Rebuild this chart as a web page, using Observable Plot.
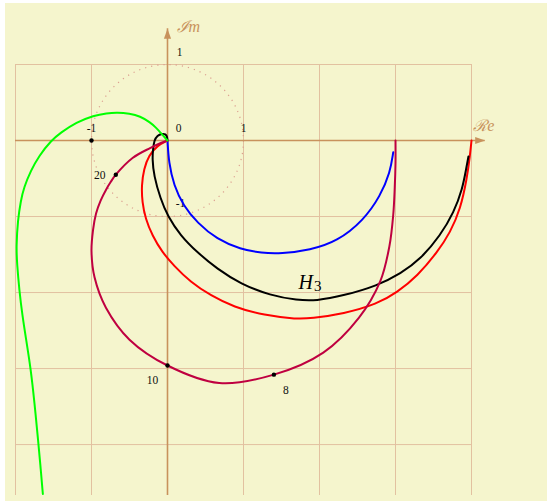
<!DOCTYPE html>
<html><head><meta charset="utf-8">
<script src="https://cdn.jsdelivr.net/npm/d3@7"></script>
<script src="https://cdn.jsdelivr.net/npm/@observablehq/plot@0.6"></script>
<style>
html,body{margin:0;padding:0;background:#ffffff;}
#chart{position:absolute;left:5px;top:3px;}
</style></head><body><div id="chart"></div>
<script>
// ---- data (Re, Im pairs) ----
// H1 (blue)
const blueRe = [0, 0.017, 0.083, 0.21, 0.39, 0.65, 0.96, 1.24, 1.49, 1.88, 2.23, 2.58, 2.80, 2.93, 2.97];
const blueIm = [0, -0.29, -0.59, -0.86, -1.08, -1.30, -1.43, -1.48, -1.49, -1.44, -1.33, -1.05, -0.73, -0.42, -0.155];
// H2 (red)
const redRe = [4.0, 3.98, 3.94, 3.855, 3.72, 3.55, 3.29, 3.02, 2.76, 2.32, 1.88, 1.71, 1.27, 0.87, 0.57, 0.30, 0.083, -0.07, -0.20, -0.29, -0.333, -0.342, -0.31, -0.246, -0.135, 0];
const redIm = [0, -0.197, -0.50, -0.90, -1.21, -1.47, -1.78, -2.0, -2.15, -2.28, -2.34, -2.35, -2.30, -2.19, -2.04, -1.86, -1.645, -1.47, -1.25, -1.03, -0.81, -0.59, -0.37, -0.197, -0.066, 0];
// H3 (black)
const blackRe = [3.96, 3.93, 3.88, 3.77, 3.59, 3.33, 3.07, 2.76, 2.32, 1.95, 1.71, 1.355, 0.96, 0.654, 0.39, 0.17, 0.0, -0.092, -0.18, -0.20, -0.19, -0.175, -0.135, -0.07, -0.025, -0.005, 0];
const blackIm = [-0.21, -0.37, -0.64, -0.94, -1.25, -1.56, -1.75, -1.91, -2.04, -2.11, -2.10, -2.04, -1.885, -1.69, -1.47, -1.25, -0.99, -0.767, -0.46, -0.24, -0.11, 0, 0.066, 0.09, 0.085, 0.05, 0];
// crimson curve, sampled by frequency
const crimsonW  = [0, 1, 2, 3, 4, 5, 6, 7, 8, 9, 10, 11, 12, 13, 14, 15, 16, 17, 18, 19, 20, 25, 35, 60, Infinity];
const crimsonRe = [3.0, 3.0, 2.99, 2.97, 2.92, 2.80, 2.52, 2.05, 1.40, 0.68, 0.0, -0.50, -0.81, -0.96, -1.0, -0.98, -0.94, -0.88, -0.81, -0.75, -0.68, -0.46, -0.23, -0.08, 0];
const crimsonIm = [0, -0.30, -0.62, -0.98, -1.39, -1.85, -2.33, -2.79, -3.08, -3.19, -2.96, -2.62, -2.20, -1.80, -1.46, -1.18, -0.96, -0.79, -0.65, -0.55, -0.45, -0.23, -0.10, -0.03, 0];
// green curve (from low frequency at the bottom to the origin)
const greenRe = [-1.64, -1.67, -1.70, -1.75, -1.80, -1.86, -1.91, -1.95, -1.98, -1.99, -1.97, -1.93, -1.89, -1.80, -1.69, -1.53, -1.41, -1.20, -0.97, -0.80, -0.66, -0.50, -0.36, -0.23, -0.15, -0.07, 0];
const greenIm = [-4.65, -4.30, -3.97, -3.45, -3.00, -2.62, -2.30, -1.97, -1.62, -1.40, -1.05, -0.79, -0.62, -0.40, -0.20, 0.0, 0.10, 0.24, 0.33, 0.36, 0.37, 0.355, 0.32, 0.24, 0.17, 0.08, 0];
// marked frequencies on the crimson curve
const markedW = [8, 10, 20];
// grid / ticks
const gridX = [-2, -1, 0, 1, 2, 3, 4];
const gridY = [1, 0, -1, -2, -3, -4];
const xTicks = [-1, 1];
const yTicks = [1, -1];
const xDomain = [-2, 4];
const yDomain = [-4.67, 1];
const reAxisEnd = 4.18;
const imAxisEnd = 1.47;
const criticalPoint = [{x: -1, y: 0}];
const h3Anchor = [{x: 1.82, y: -1.87}];

// ---- layout ----
const W = 542, H = 498;
const mL = 10, mR = 76, mT = 61, mB = 6;
const unitPx = (W - mL - mR) / (xDomain[1] - xDomain[0]);

const pts = (re, im) => re.map((x, i) => ({x, y: im[i]}));
const crimson = crimsonRe.map((x, i) => ({w: crimsonW[i], x, y: crimsonIm[i]}));
const marks = crimson.filter(d => markedW.includes(d.w));
const mk = w => marks.filter(d => d.w === w);

const gridColor = "#e2c1a0";
const axisColor = "#c8925c";
const serif = "Liberation Serif, DejaVu Serif, serif";

const arrowRight = {draw(c) { c.moveTo(0, 0); c.lineTo(-10, -3.6); c.lineTo(-10, 3.6); c.closePath(); }};
const arrowUp = {draw(c) { c.moveTo(0, 0); c.lineTo(-3.6, 10); c.lineTo(3.6, 10); c.closePath(); }};

const lineOpts = (stroke, curve) => ({x: "x", y: "y", stroke, strokeWidth: 2, curve});

const chart = Plot.plot({
  width: W, height: H,
  marginLeft: mL, marginRight: mR, marginTop: mT, marginBottom: mB,
  x: {domain: xDomain, axis: null},
  y: {domain: yDomain, axis: null},
  style: {background: "#f5f5cd", overflow: "visible"},
  marks: [
    Plot.ruleX(gridX, {y1: yDomain[0], y2: yDomain[1], stroke: gridColor, strokeWidth: 1}),
    Plot.ruleY(gridY, {x1: xDomain[0], x2: xDomain[1], stroke: gridColor, strokeWidth: 1}),
    Plot.dot([{x: 0, y: 0}], {x: "x", y: "y", r: unitPx, fill: "none", stroke: "#dca090", strokeWidth: 1.2, strokeDasharray: "1.2 5"}),
    // axes
    Plot.ruleY([0], {x1: xDomain[0], x2: reAxisEnd, stroke: axisColor, strokeWidth: 1.6}),
    Plot.ruleX([0], {y1: yDomain[0], y2: imAxisEnd, stroke: axisColor, strokeWidth: 1.6}),
    Plot.dot([{x: reAxisEnd, y: 0}], {x: "x", y: "y", r: 5, symbol: arrowRight, fill: axisColor, stroke: "none"}),
    Plot.dot([{x: 0, y: imAxisEnd}], {x: "x", y: "y", r: 5, symbol: arrowUp, fill: axisColor, stroke: "none"}),
    Plot.text([{x: reAxisEnd, y: 0}], {x: "x", y: "y", text: () => "ℛe", textAnchor: "start", dx: -12, dy: -15, fill: "#c8925c", fontSize: 16, fontStyle: "italic", fontFamily: serif}),
    Plot.text([{x: 0, y: imAxisEnd}], {x: "x", y: "y", text: () => "ℐm", textAnchor: "start", dx: 9, dy: -2, fill: "#c8925c", fontSize: 16, fontStyle: "italic", fontFamily: serif}),
    // tick labels
    Plot.text(xTicks, {x: d => d, y: () => 0, text: d => String(d), dy: -12, fontSize: 11.5, fontFamily: serif, fill: "#111"}),
    Plot.text([0], {x: d => d, y: () => 0, text: d => String(d), dx: 11, dy: -12, fontSize: 11.5, fontFamily: serif, fill: "#111"}),
    Plot.text(yTicks.filter(d => d > 0), {x: () => 0, y: d => d, text: d => String(d), dx: 12, dy: -12, fontSize: 11.5, fontFamily: serif, fill: "#111"}),
    Plot.text(yTicks.filter(d => d < 0), {x: () => 0, y: d => d, text: d => String(d), dx: 13, dy: -13, fontSize: 11.5, fontFamily: serif, fill: "#111"}),
    // curves
    Plot.line(pts(blueRe, blueIm), lineOpts("#0000ff", "basis")),
    Plot.line(pts(redRe, redIm), lineOpts("#ff0000", "basis")),
    Plot.line(pts(blackRe, blackIm), lineOpts("#000000", "basis")),
    Plot.line(crimson, lineOpts("#bf0040", "catmull-rom")),
    Plot.line(pts(greenRe, greenIm), lineOpts("#00ff00", "basis")),
    // points
    Plot.dot(criticalPoint, {x: "x", y: "y", r: 2.2, fill: "#000", stroke: "none"}),
    Plot.dot(marks, {x: "x", y: "y", r: 2.2, fill: "#000", stroke: "none"}),
    Plot.text(mk(20), {x: "x", y: "y", text: d => String(d.w), dx: -16, dy: 1, fontSize: 11.5, fontFamily: serif, fill: "#111"}),
    Plot.text(mk(10), {x: "x", y: "y", text: d => String(d.w), dx: -15, dy: 15, fontSize: 11.5, fontFamily: serif, fill: "#111"}),
    Plot.text(mk(8), {x: "x", y: "y", text: d => String(d.w), dx: 12, dy: 16, fontSize: 11.5, fontFamily: serif, fill: "#111"}),
    // H3 label
    Plot.text(h3Anchor, {x: "x", y: "y", text: () => "H", fontSize: 20, fontStyle: "italic", fontFamily: serif, fill: "#000"}),
    Plot.text(h3Anchor, {x: "x", y: "y", text: () => "3", dx: 12, dy: 4, fontSize: 15, fontFamily: serif, fill: "#000"})
  ]
});
document.getElementById("chart").appendChild(chart);
</script></body></html>
